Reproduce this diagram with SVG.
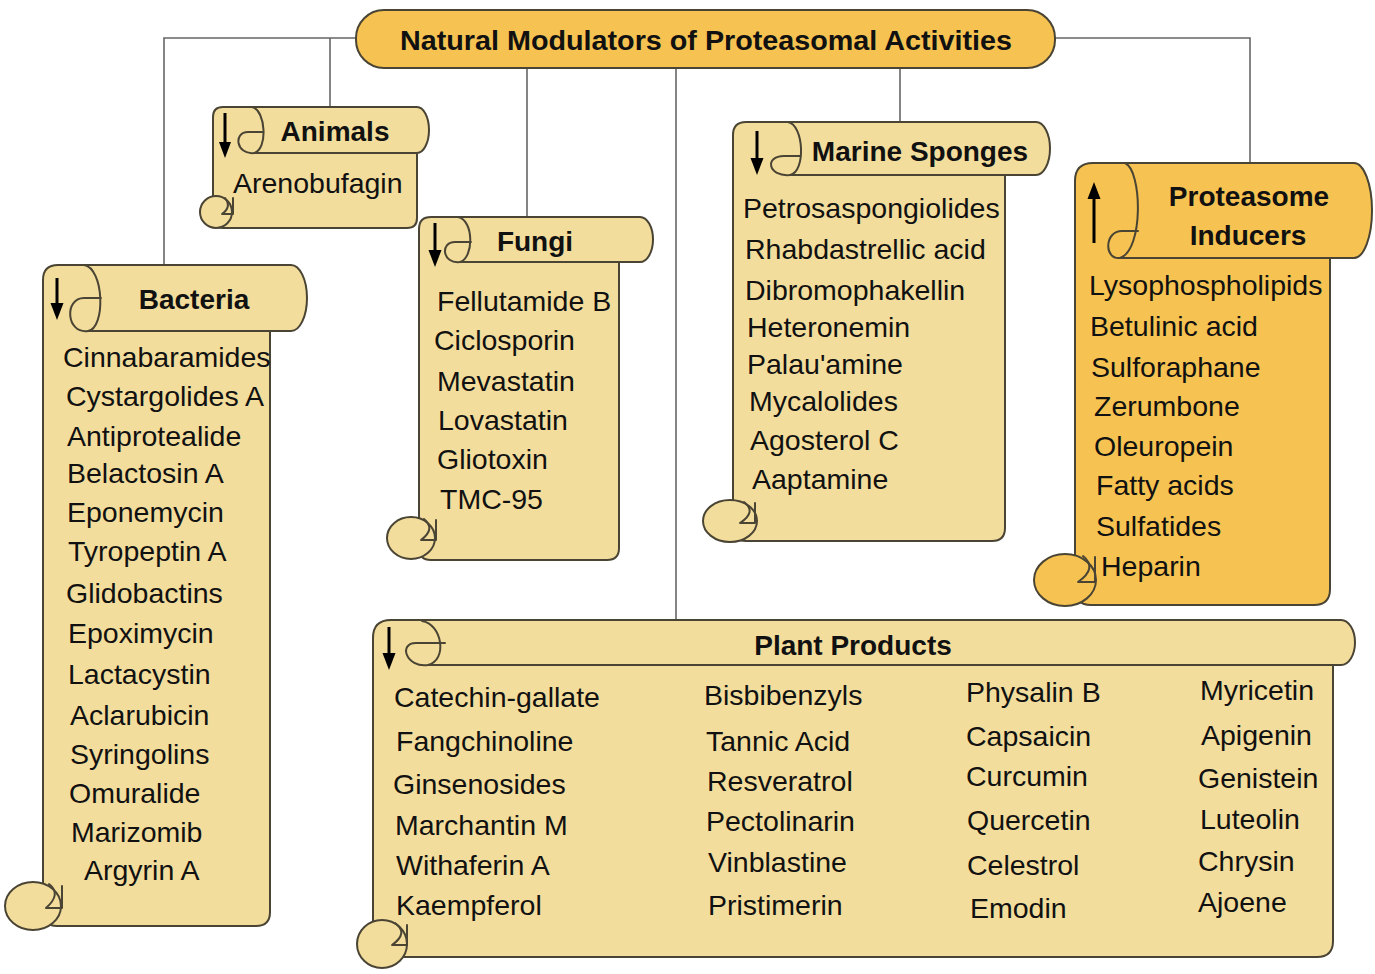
<svg xmlns="http://www.w3.org/2000/svg" width="1375" height="974" viewBox="0 0 1375 974">
<style>
.sc{fill:#F3DD9C;stroke:#4a4434;stroke-width:2;stroke-linejoin:round}
.gd{fill:#F6C352}
.ln{fill:none;stroke:#4a4434;stroke-width:2;stroke-linejoin:round;stroke-linecap:round}
.ar{fill:none;stroke:#000;stroke-width:3}
.ah{fill:#000;stroke:none}
.cn{fill:none;stroke:#666;stroke-width:1.6}
.hd{font-family:"Liberation Sans",Arial,sans-serif;font-weight:bold;font-size:28px;fill:#111;text-anchor:middle}
.it{font-family:"Liberation Sans",Arial,sans-serif;font-size:28.5px;fill:#111}
</style>
<rect width="1375" height="974" fill="#fff"/>

<g id="connectors">
<path class="cn" d="M164,265 V38 H356 M1055,38 H1250 V163 M330,38 V107 M527,68 V217 M676,68 V620 M900,68 V122"/>
</g>

<g id="title">
<rect x="356" y="10" width="699" height="58" rx="28" ry="28" class="sc gd"/>
<text x="706" y="50" class="hd" font-size="30" textLength="612" lengthAdjust="spacingAndGlyphs">Natural Modulators of Proteasomal Activities</text>
</g>

<g id="animals">
<path class="sc" d="M213,117 Q213,107 223,107 H417 A12,23 0 0 1 417,153 H417 V218 Q417,228 407,228 H223 Q213,228 213,218 Z"/>
<path class="ln" d="M254,153 H417"/>
<path class="ln" d="M252,107 C266,110 268,150 254,153 C236,155 233,132 248,132 L262,132"/>
<path class="ar" d="M225,113 V144"/>
<path class="ah" d="M219,142 H231 L225,158 Z"/>
<ellipse class="sc" cx="216" cy="212" rx="16" ry="16"/>
<path class="ln" d="M225,198 Q232,207 222,214 L233,214 M233,198 V214"/>
<text class="hd" x="335" y="141">Animals</text>
<text class="it" x="233" y="193">Arenobufagin</text>
</g>

<g id="bacteria">
<path class="sc" d="M43,280 Q43,265 58,265 H291 A16,33 0 0 1 291,331 H270 V912 Q270,926 256,926 H57 Q43,926 43,912 Z"/>
<path class="ln" d="M88,331 H270"/>
<path class="ln" d="M84,265 C104,268 106,328 88,331 C66,334 64,298 84,298 L101,298"/>
<path class="ar" d="M57,278 V306"/>
<path class="ah" d="M50.5,303 H63.5 L57,320 Z"/>
<ellipse class="sc" cx="33" cy="906" rx="28" ry="24"/>
<path class="ln" d="M49,884 Q62,894 46,908 L62,908 M62,886 V908"/>
<text class="hd" x="194" y="309">Bacteria</text>
<text class="it" x="63" y="367">Cinnabaramides</text>
<text class="it" x="66" y="406">Cystargolides A</text>
<text class="it" x="67" y="446">Antiprotealide</text>
<text class="it" x="67" y="483">Belactosin A</text>
<text class="it" x="67" y="522">Eponemycin</text>
<text class="it" x="68" y="561">Tyropeptin A</text>
<text class="it" x="66" y="603">Glidobactins</text>
<text class="it" x="68" y="643">Epoximycin</text>
<text class="it" x="68" y="684">Lactacystin</text>
<text class="it" x="70" y="725">Aclarubicin</text>
<text class="it" x="70" y="764">Syringolins</text>
<text class="it" x="69" y="803">Omuralide</text>
<text class="it" x="71" y="842">Marizomib</text>
<text class="it" x="84" y="880">Argyrin A</text>
</g>

<g id="fungi">
<path class="sc" d="M419,229 Q419,217 431,217 H640 A13,22.5 0 0 1 640,262 H619 V548 Q619,560 607,560 H431 Q419,560 419,548 Z"/>
<path class="ln" d="M460,262 H619"/>
<path class="ln" d="M458,217 C474,220 474,258 460,262 C442,264 440,242 455,242 L471,242"/>
<path class="ar" d="M435,223 V253"/>
<path class="ah" d="M428.5,250 H441.5 L435,267 Z"/>
<ellipse class="sc" cx="411" cy="538" rx="24" ry="21"/>
<path class="ln" d="M424,519 Q436,529 421,540 L436,540 M436,520 V540"/>
<text class="hd" x="535" y="251">Fungi</text>
<text class="it" x="437" y="311">Fellutamide B</text>
<text class="it" x="434" y="350">Ciclosporin</text>
<text class="it" x="437" y="391">Mevastatin</text>
<text class="it" x="438" y="430">Lovastatin</text>
<text class="it" x="437" y="469">Gliotoxin</text>
<text class="it" x="440" y="509">TMC-95</text>
</g>

<g id="marine-sponges">
<path class="sc" d="M733,135 Q733,122 746,122 H1036 A14,26.5 0 0 1 1036,175 H1005 V528 Q1005,541 992,541 H746 Q733,541 733,528 Z"/>
<path class="ln" d="M790,175 H1005"/>
<path class="ln" d="M788,122 C804,125 806,172 790,175 C768,177 764,156 784,156 L801,156"/>
<path class="ar" d="M757,131 V161"/>
<path class="ah" d="M750.5,158 H763.5 L757,175 Z"/>
<ellipse class="sc" cx="730" cy="521" rx="27" ry="21"/>
<path class="ln" d="M744,502 Q757,512 740,523 L755,523 M755,503 V523"/>
<text class="hd" x="920" y="161">Marine Sponges</text>
<text class="it" x="743" y="218">Petrosaspongiolides</text>
<text class="it" x="745" y="259">Rhabdastrellic acid</text>
<text class="it" x="745" y="300">Dibromophakellin</text>
<text class="it" x="747" y="337">Heteronemin</text>
<text class="it" x="747" y="374">Palau'amine</text>
<text class="it" x="749" y="411">Mycalolides</text>
<text class="it" x="750" y="450">Agosterol C</text>
<text class="it" x="752" y="489">Aaptamine</text>
</g>

<g id="proteasome-inducers">
<path class="sc gd" d="M1075,181 Q1075,163 1093,163 H1354 A18,47.5 0 0 1 1354,258 H1330 V589 Q1330,605 1314,605 H1091 Q1075,605 1075,589 Z"/>
<path class="ln" d="M1120,258 H1330"/>
<path class="ln" d="M1125,163 C1142,170 1144,250 1120,258 C1104,260 1104,231 1122,231 L1138,231"/>
<path class="ar" d="M1094,243 V196"/>
<path class="ah" d="M1087.5,199 H1100.5 L1094,182 Z"/>
<ellipse class="sc gd" cx="1065" cy="580" rx="31" ry="26"/>
<path class="ln" d="M1083,556 Q1098,568 1078,582 L1095,582 M1095,557 V582"/>
<text class="hd" x="1249" y="206">Proteasome</text>
<text class="hd" x="1248" y="245">Inducers</text>
<text class="it" x="1089" y="295">Lysophospholipids</text>
<text class="it" x="1090" y="336">Betulinic acid</text>
<text class="it" x="1091" y="377">Sulforaphane</text>
<text class="it" x="1094" y="416">Zerumbone</text>
<text class="it" x="1094" y="456">Oleuropein</text>
<text class="it" x="1096" y="495">Fatty acids</text>
<text class="it" x="1096" y="536">Sulfatides</text>
<text class="it" x="1101" y="576">Heparin</text>
</g>

<g id="plant-products">
<path class="sc" d="M373,638 Q373,620 391,620 H1341 A14,22.5 0 0 1 1341,665 H1333 V941 Q1333,957 1317,957 H389 Q373,957 373,941 Z"/>
<path class="ln" d="M428,665 H1333"/>
<path class="ln" d="M422,621 C442,624 448,660 428,665 C406,668 398,643 416,643 L445,643"/>
<path class="ar" d="M389,627 V656"/>
<path class="ah" d="M382.5,653 H395.5 L389,670 Z"/>
<ellipse class="sc" cx="382" cy="944" rx="25" ry="24"/>
<path class="ln" d="M395,923 Q409,933 392,945 L407,945 M407,925 V945"/>
<text class="hd" x="853" y="655">Plant Products</text>
<text class="it" x="394" y="707">Catechin-gallate</text>
<text class="it" x="396" y="751">Fangchinoline</text>
<text class="it" x="393" y="794">Ginsenosides</text>
<text class="it" x="395" y="835">Marchantin M</text>
<text class="it" x="396" y="875">Withaferin A</text>
<text class="it" x="396" y="915">Kaempferol</text>
<text class="it" x="704" y="705">Bisbibenzyls</text>
<text class="it" x="706" y="751">Tannic Acid</text>
<text class="it" x="707" y="791">Resveratrol</text>
<text class="it" x="706" y="831">Pectolinarin</text>
<text class="it" x="708" y="872">Vinblastine</text>
<text class="it" x="708" y="915">Pristimerin</text>
<text class="it" x="966" y="702">Physalin B</text>
<text class="it" x="966" y="746">Capsaicin</text>
<text class="it" x="966" y="786">Curcumin</text>
<text class="it" x="967" y="830">Quercetin</text>
<text class="it" x="967" y="875">Celestrol</text>
<text class="it" x="970" y="918">Emodin</text>
<text class="it" x="1200" y="700">Myricetin</text>
<text class="it" x="1201" y="745">Apigenin</text>
<text class="it" x="1198" y="788">Genistein</text>
<text class="it" x="1200" y="829">Luteolin</text>
<text class="it" x="1198" y="871">Chrysin</text>
<text class="it" x="1198" y="912">Ajoene</text>
</g>
</svg>
